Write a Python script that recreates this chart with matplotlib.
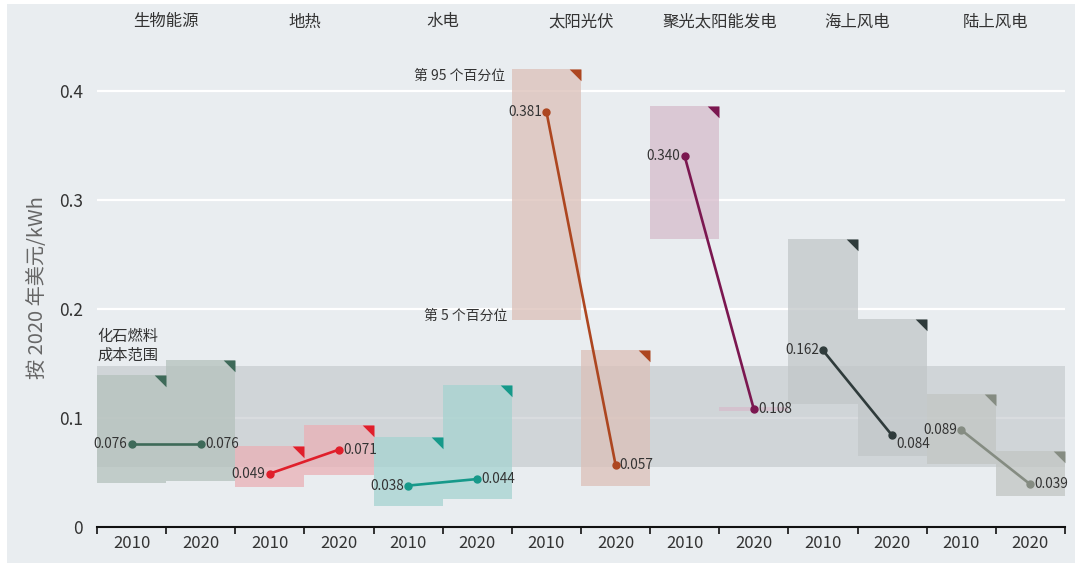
import matplotlib.pyplot as plt
from matplotlib.patches import Rectangle

plt.rcParams["font.family"] = ["Noto Sans CJK SC", "DejaVu Sans"]

# data
techs = ["生物能源", "地热", "水电", "太阳光伏", "聚光太阳能发电", "海上风电", "陆上风电"]
years = ["2010", "2020"]
lcoe_2010 = [0.076, 0.049, 0.038, 0.381, 0.340, 0.162, 0.089]
lcoe_2020 = [0.076, 0.071, 0.044, 0.057, 0.108, 0.084, 0.039]
p5_2010 = [0.040, 0.037, 0.019, 0.190, 0.264, 0.113, 0.058]
p95_2010 = [0.139, 0.074, 0.083, 0.420, 0.386, 0.264, 0.122]
p5_2020 = [0.042, 0.048, 0.026, 0.038, 0.106, 0.065, 0.028]
p95_2020 = [0.153, 0.094, 0.130, 0.162, 0.110, 0.191, 0.070]
fossil_low, fossil_high = 0.055, 0.148

line_colors = ["#3e6a59", "#e01f2b", "#16998a", "#ad4620", "#7b1750", "#2f3b3b", "#858c82"]
box_colors = ["#b4c1bc", "#eab0b6", "#a6d3d0", "#dcc0b8", "#d6bccb", "#c2c7c9", "#c2c6c3"]

bg = "#e9edf0"
text_c = "#333333"

fig = plt.figure(figsize=(10.75, 5.63), dpi=100, facecolor="white")
fig.patches.append(Rectangle((7 / 1075, 0), 1, 1 - 4 / 563, transform=fig.transFigure,
                             facecolor=bg, edgecolor="none", zorder=-10))
ax = fig.add_axes([97 / 1075, 1 - 527 / 563, 968 / 1075, 0.44 * 1090 / 563])
ax.set_facecolor("none")
ax.set_xlim(0, 14)
ax.set_ylim(0, 0.44)

# grid
for yv in [0.1, 0.2, 0.3, 0.4]:
    ax.axhline(yv, color="white", lw=1.6, zorder=0)

# fossil fuel range band
ax.axhspan(fossil_low, fossil_high, color="#bfc4c8", alpha=0.58, lw=0, zorder=1)

for i in range(len(techs)):
    x0 = 2 * i
    lows = [p5_2010[i], p5_2020[i]]
    highs = [p95_2010[i], p95_2020[i]]
    for k in range(2):
        ax.bar(x0 + k, highs[k] - lows[k], width=1, bottom=lows[k], align="edge",
               color=box_colors[i], alpha=0.75, lw=0, zorder=2)
        if highs[k] - lows[k] > 0.02:
            ax.plot(x0 + k + 1, highs[k], marker=[(0, 0), (-1, 0), (0, -1), (0, 0)],
                    markersize=17, color=line_colors[i], mew=0, zorder=3, clip_on=False)
    xs = [x0 + 0.5, x0 + 1.5]
    ys = [lcoe_2010[i], lcoe_2020[i]]
    ax.plot(xs, ys, color=line_colors[i], lw=1.9, marker="o", markersize=5, zorder=4)
    ax.annotate(f"{lcoe_2010[i]:.3f}", (xs[0], ys[0]), xytext=(-3, 0), textcoords="offset points",
                ha="right", va="center", fontsize=9.8, color=text_c, zorder=5)
    if i == 5:
        ax.annotate(f"{lcoe_2020[i]:.3f}", (xs[1], ys[1]), xytext=(3, -1), textcoords="offset points",
                    ha="left", va="top", fontsize=9.8, color=text_c, zorder=5)
    else:
        ax.annotate(f"{lcoe_2020[i]:.3f}", (xs[1], ys[1]), xytext=(3, 0), textcoords="offset points",
                    ha="left", va="center", fontsize=9.8, color=text_c, zorder=5)
    ax.text(x0 + 1, 1.053, techs[i], transform=ax.get_xaxis_transform(),
            ha="center", va="center", fontsize=11.8, color=text_c)

# annotations
ax.text(6 - 0.1, p95_2010[3] - 0.006, "第 95 个百分位", ha="right", va="center", fontsize=10, color=text_c)
ax.text(6 - 0.07, p5_2010[3] + 0.004, "第 5 个百分位", ha="right", va="center", fontsize=10, color=text_c)
ax.text(0.0, 0.166, "化石燃料\n成本范围", ha="left", va="center", fontsize=11,
        color=text_c, linespacing=1.15)

# axes
for s in ["left", "right", "top"]:
    ax.spines[s].set_visible(False)
ax.spines["bottom"].set_color("#111111")
ax.spines["bottom"].set_linewidth(1.5)
ax.set_xticks(range(15))
ax.set_xticklabels([])
ax.tick_params(axis="x", which="major", length=5, width=1.2, color="#111111", direction="out")
ax.set_xticks([j + 0.5 for j in range(14)], minor=True)
ax.set_xticklabels(years * 7, minor=True)
ax.tick_params(axis="x", which="minor", length=0, pad=6, labelsize=12, labelcolor=text_c)
ax.set_yticks([0, 0.1, 0.2, 0.3, 0.4])
ax.set_yticklabels(["0", "0.1", "0.2", "0.3", "0.4"])
ax.tick_params(axis="y", length=0, pad=10, labelsize=12.5, labelcolor=text_c)
ax.set_ylabel("按 2020 年美元/kWh", fontsize=14.5, color="#666666", labelpad=8)

plt.savefig("out.png", dpi=100, facecolor=fig.get_facecolor())
